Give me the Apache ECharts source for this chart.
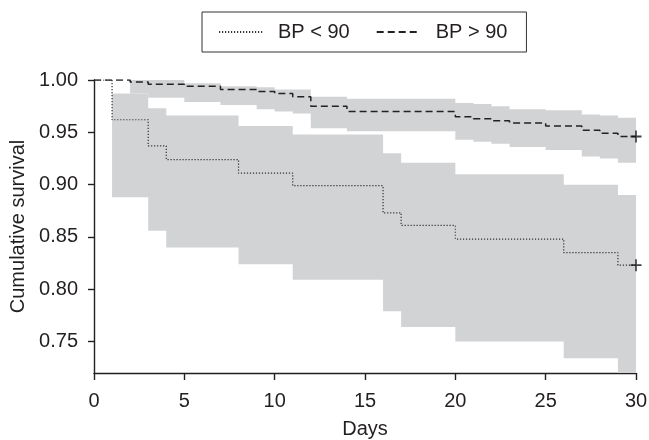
<!DOCTYPE html>
<html>
<head>
<meta charset="utf-8">
<script src="https://cdn.jsdelivr.net/npm/echarts@6/dist/echarts.min.js"></script>
<style>
html,body{margin:0;padding:0;background:#fff;}
#c{width:649px;height:440px;}
</style>
</head>
<body>
<div id="c"></div>
<script>
// BP < 90 Kaplan-Meier curve
const lowDays = [0, 1, 3, 4, 8, 11, 16, 17, 20, 26, 29, 30];
const lowSurv = [1.0, 0.962, 0.937, 0.924, 0.911, 0.899, 0.873, 0.861, 0.848, 0.835, 0.823, 0.823];
// BP < 90 confidence band
const lowBandDays = [1, 3, 4, 8, 11, 16, 17, 20, 26, 29, 30];
const lowUpper = [0.987, 0.973, 0.966, 0.956, 0.948, 0.930, 0.921, 0.910, 0.900, 0.890, 0.890];
const lowLower = [0.888, 0.856, 0.840, 0.824, 0.809, 0.779, 0.764, 0.750, 0.734, 0.705, 0.705];
// BP > 90 Kaplan-Meier curve
const highDays = [0, 2, 3, 5, 7, 9, 10, 11, 12, 14, 20, 21, 22, 23, 25, 27, 28, 29, 30];
const highSurv = [1.0, 0.998, 0.996, 0.994, 0.991, 0.989, 0.987, 0.984, 0.975, 0.970, 0.965, 0.963, 0.961, 0.959, 0.956, 0.952, 0.949, 0.946, 0.946];
// BP > 90 confidence band
const highBandDays = [2, 3, 5, 7, 9, 10, 11, 12, 14, 20, 21, 22, 23, 25, 27, 28, 29, 30];
const highUpper = [1.0, 1.0, 0.997, 0.994, 0.993, 0.991, 0.991, 0.984, 0.982, 0.978, 0.977, 0.975, 0.972, 0.971, 0.967, 0.966, 0.964, 0.964];
const highLower = [0.987, 0.983, 0.979, 0.976, 0.972, 0.970, 0.968, 0.954, 0.951, 0.943, 0.941, 0.939, 0.936, 0.933, 0.927, 0.925, 0.921, 0.921];
// axis ticks
const yTicks = [0.75, 0.80, 0.85, 0.90, 0.95, 1.00];
const seriesNames = ['BP < 90', 'BP > 90'];

const FONT = 'Liberation Sans';
const TXT = '#231f20';
const BAND = '#d2d3d5';

const pairs = (xs, ys) => xs.map((x, i) => [x, ys[i]]);

// step-shaped confidence band polygon built through the chart's own coordinate mapping
function bandSeries(days, upper, lower) {
  return {
    type: 'custom', silent: true, z: 1, clip: true,
    data: [[days[0], upper[0]]],
    renderItem: function (params, api) {
      const cs = params.coordSys;
      const top = cs.y, bottom = cs.y + cs.height;
      const clampY = p => [p[0], Math.max(top - 1, Math.min(bottom, p[1]))];
      const pts = [];
      for (let i = 0; i < days.length; i++) {
        const xNext = i < days.length - 1 ? days[i + 1] : days[i];
        pts.push(clampY(api.coord([days[i], upper[i]])));
        pts.push(clampY(api.coord([xNext, upper[i]])));
      }
      for (let i = days.length - 1; i >= 0; i--) {
        const xNext = i < days.length - 1 ? days[i + 1] : days[i];
        pts.push(clampY(api.coord([xNext, lower[i]])));
        pts.push(clampY(api.coord([days[i], lower[i]])));
      }
      return {type: 'polygon', shape: {points: pts}, style: {fill: BAND, stroke: null}};
    }
  };
}

const chart = echarts.init(document.getElementById('c'), null, {renderer: 'canvas'});
const plusPath = 'path://M0,8.5H20V11.5H0Z M8.5,0H11.5V20H8.5Z';

chart.setOption({
  animation: false,
  backgroundColor: '#fff',
  textStyle: {fontFamily: FONT, color: TXT},
  legend: {
    data: seriesNames,
    left: 202, top: 12,
    padding: [10, 19, 10, 16],
    itemWidth: 44, itemHeight: 14, itemGap: 26,
    borderColor: '#333', borderWidth: 1,
    itemStyle: {color: 'rgba(0,0,0,0)', borderColor: 'rgba(0,0,0,0)', borderWidth: 0},
    textStyle: {fontFamily: FONT, fontSize: 20, color: TXT, padding: [0, 0, 0, 10]}
  },
  grid: {left: 94, right: 13, top: 80, bottom: 67, containLabel: false, outerBoundsMode: 'none'},
  xAxis: {
    type: 'value', min: 0, max: 30, interval: 5,
    name: 'Days', nameLocation: 'middle', nameGap: 46,
    nameTextStyle: {fontFamily: FONT, fontSize: 20, color: TXT},
    axisLine: {onZero: false, lineStyle: {color: TXT, width: 1.4}},
    axisTick: {length: 7, lineStyle: {color: TXT, width: 1.4}},
    axisLabel: {fontFamily: FONT, fontSize: 20, color: TXT, margin: 18},
    splitLine: {show: false}
  },
  yAxis: {
    type: 'value', min: 0.72, max: 1.0,
    name: 'Cumulative survival', nameLocation: 'middle', nameGap: 65,
    nameTextStyle: {fontFamily: FONT, fontSize: 20, color: TXT},
    axisLine: {show: true, onZero: false, lineStyle: {color: TXT, width: 1.4}},
    axisTick: {show: true, length: 6, customValues: yTicks, lineStyle: {color: TXT, width: 1.4}},
    axisLabel: {fontFamily: FONT, fontSize: 20, color: TXT, margin: 16, customValues: yTicks,
      formatter: v => v.toFixed(2)},
    splitLine: {show: false}
  },
  series: [
    bandSeries(lowBandDays, lowUpper, lowLower),
    bandSeries(highBandDays, highUpper, highLower),
    {type: 'line', name: seriesNames[0], step: 'end', symbol: 'none',
      data: pairs(lowDays, lowSurv), color: '#333',
      lineStyle: {color: '#333', width: 1.2, type: [1.2, 1.8]}, z: 3},
    {type: 'line', name: seriesNames[1], step: 'end', symbol: 'none',
      data: pairs(highDays, highSurv), color: '#222',
      lineStyle: {color: '#222', width: 1.5, type: [7, 4]}, z: 3},
    {type: 'scatter', name: 'censor', symbol: plusPath, symbolSize: [11, 12], silent: true,
      itemStyle: {color: '#111'}, z: 4,
      data: [[lowDays[lowDays.length - 1], lowSurv[lowSurv.length - 1]],
             [highDays[highDays.length - 1], highSurv[highSurv.length - 1]]]}
  ]
});
</script>
</body>
</html>
